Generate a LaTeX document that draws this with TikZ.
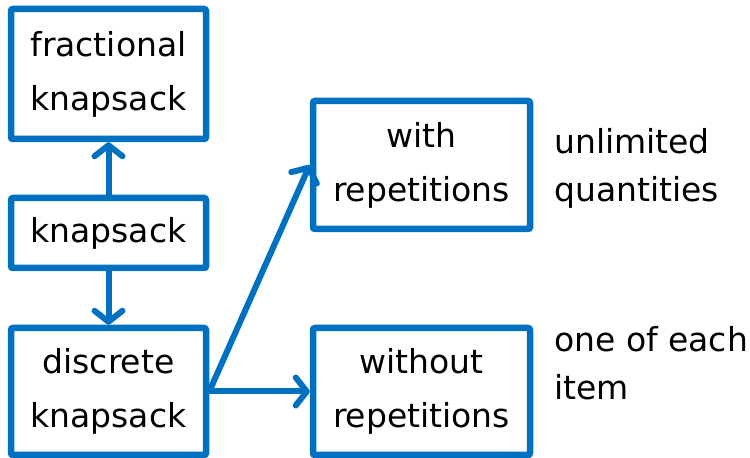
\documentclass[tikz,border=0pt]{standalone}
\usepackage{fontspec}
\setmainfont{DejaVu Sans}
\usetikzlibrary{arrows.meta, positioning}
\usepackage{xcolor}
\definecolor{pptblue}{RGB}{0,112,192}

\begin{document}
\begin{tikzpicture}[
x=1pt, y=1pt,
box/.style={draw=pptblue, rectangle, line width=6.5pt, rounded corners=2pt,
minimum width=195pt, minimum height=70pt, inner sep=0pt,
align=center, font=\fontsize{33}{54}\selectfont},
note/.style={align=left, inner sep=0pt, anchor=west,
font=\fontsize{33}{48}\selectfont},
arrow/.style={-{Straight Barb[round, length=11pt, width=28pt]}, line width=6pt, draw=pptblue}
]
\useasboundingbox (0,0) rectangle (750,458);

\node[box, minimum height=130pt] (frac) at (108.5,384) {fractional\\knapsack};
\node[box] (knap) at (108.5,225) {knapsack};
\node[box, minimum height=127pt] (disc) at (108.5,66.5) {discrete\\knapsack};
\node[box, minimum width=217pt, minimum height=128pt] (withrep) at (421.5,293) {with\\repetitions};
\node[box, minimum width=217pt, minimum height=127pt] (worep) at (421.5,66.5) {without\\repetitions};

\node[note] (unlim) at (554,290) {unlimited\\quantities};
\node[note] (once) at (554,95) {one of each\\item};

\draw[arrow] (knap) -- (frac);
\draw[arrow] (knap) -- (disc);
\draw[arrow] (disc.east) -- (withrep.west);
\draw[arrow] (disc.east) -- (worep.west);

\end{tikzpicture}
\end{document}
